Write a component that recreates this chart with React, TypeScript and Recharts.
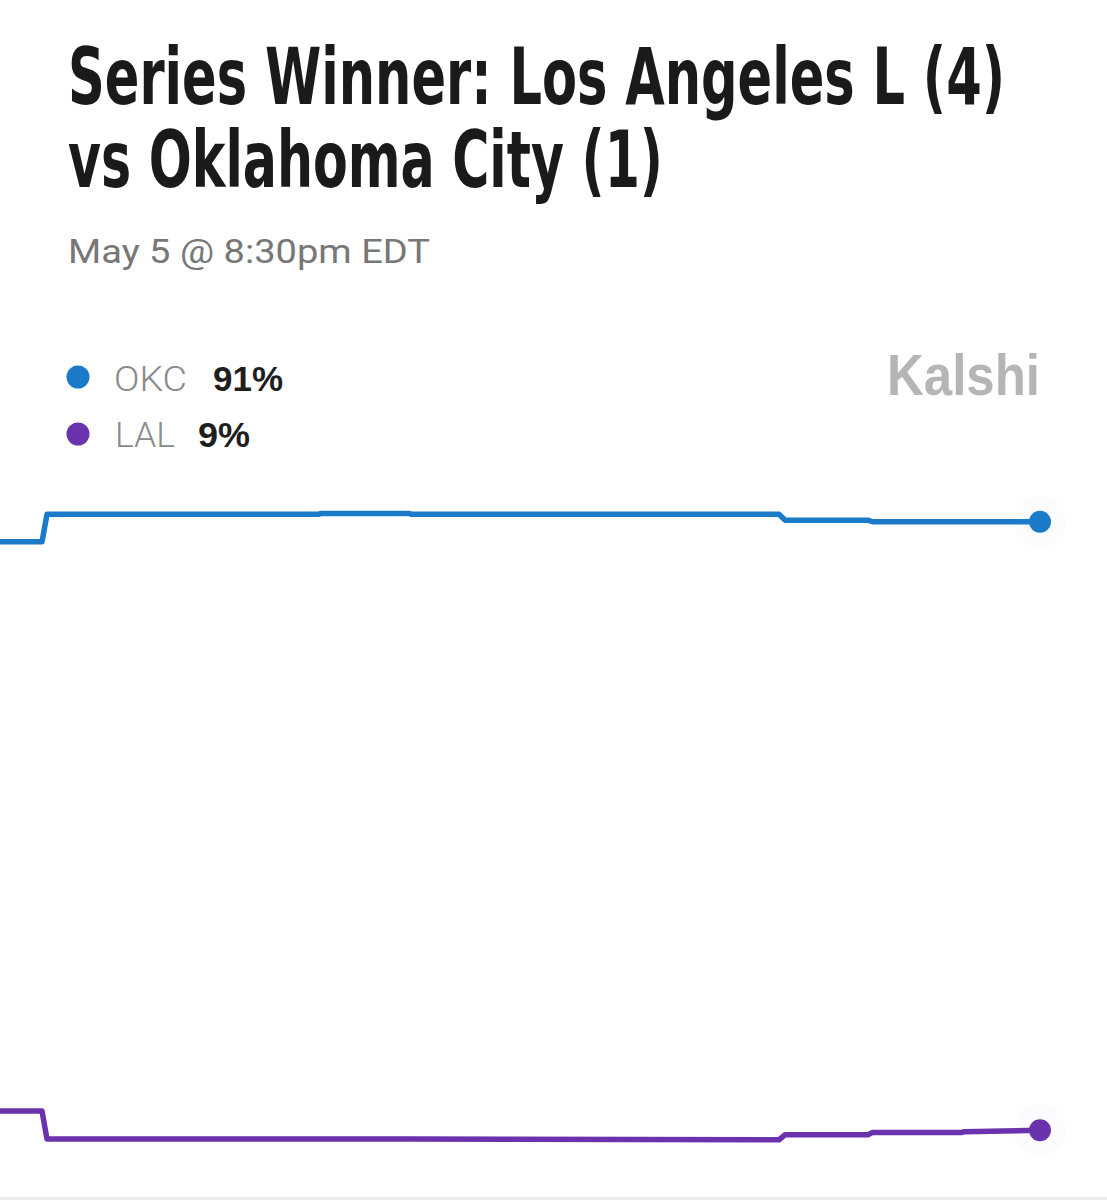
import React from "react";
import { LineChart, Line, XAxis, YAxis } from "recharts";

// time position (0..100 of the visible window)
const times = [0, 4.04, 4.52, 30.6, 30.8, 39.4, 39.6, 74.9, 75.5, 83.5, 83.9, 92.5, 92.7, 100];
// OKC win probability (%)
const okcValues = [88.3, 88.3, 92.0, 92.0, 92.1, 92.1, 92.0, 92.0, 91.2, 91.2, 91.0, 91.0, 91.0, 91.0];
// LAL win probability (%)
const lalValues = [11.6, 11.6, 7.8, 7.8, 7.8, 7.8, 7.8, 7.7, 8.4, 8.4, 8.7, 8.7, 8.8, 9.0];

const seriesNames = ["OKC", "LAL"];
const seriesLabels = ["91%", "9%"];
const seriesColors = ["#1b7bc9", "#6a32ad"];

const titleLines = ["Series Winner: Los Angeles L (4)", "vs Oklahoma City (1)"];
const subtitle = "May 5 @ 8:30pm EDT";
const brand = "Kalshi";

const data = times.map((t, i) => ({ t, okc: okcValues[i], lal: lalValues[i] }));

const W = 1107;
const H = 1200;

const makeEndDot = (color: string) => (props: any) => {
  const { cx, cy, index } = props;
  if (index !== data.length - 1 || cx == null || cy == null) return <g key={`d-${index}`} />;
  return (
    <g key={`d-${index}`}>
      <circle cx={cx} cy={cy} r={26} fill={color} fillOpacity={0.018} />
      <circle cx={cx} cy={cy} r={11} fill={color} />
    </g>
  );
};

const titleFont = "'Liberation Sans Narrow', 'DejaVu Sans Condensed', 'Liberation Sans', sans-serif";

export default function App() {
  return (
    <div style={{ position: "absolute", left: 0, top: 0, width: W, height: H, background: "#ffffff", overflow: "hidden" }}>
      <div style={{ position: "absolute", left: 0, top: 1197, width: W, height: 3, background: "#ececec" }} />
      <div style={{ position: "absolute", left: 0, top: 0 }}>
        <LineChart width={W} height={H} data={data} margin={{ top: 455, right: 67, bottom: 3, left: 0 }}>
          <XAxis dataKey="t" type="number" domain={[0, 100]} hide />
          <YAxis type="number" domain={[0, 100]} hide />
          <Line
            dataKey="okc"
            type="linear"
            stroke={seriesColors[0]}
            strokeWidth={5.5}
            strokeLinejoin="round"
            strokeLinecap="round"
            dot={makeEndDot(seriesColors[0])}
            activeDot={false}
            isAnimationActive={false}
          />
          <Line
            dataKey="lal"
            type="linear"
            stroke={seriesColors[1]}
            strokeWidth={5.5}
            strokeLinejoin="round"
            strokeLinecap="round"
            dot={makeEndDot(seriesColors[1])}
            activeDot={false}
            isAnimationActive={false}
          />
        </LineChart>
      </div>
      <svg width={W} height={H} style={{ position: "absolute", left: 0, top: 0, pointerEvents: "none" }}>
        <g transform="translate(68,104) scale(1,1.37)">
          <text x={0} y={0} fontFamily={titleFont} fontWeight={700} fontSize={57} fill="#1a1a1a" textLength={937} lengthAdjust="spacingAndGlyphs">
            {titleLines[0]}
          </text>
        </g>
        <g transform="translate(68,187) scale(1,1.37)">
          <text x={0} y={0} fontFamily={titleFont} fontWeight={700} fontSize={57} fill="#1a1a1a" textLength={595} lengthAdjust="spacingAndGlyphs">
            {titleLines[1]}
          </text>
        </g>
        <text x={68} y={263} fontFamily="Roboto, 'Liberation Sans', sans-serif" fontSize={33} fill="#777777" textLength={362} lengthAdjust="spacingAndGlyphs">
          {subtitle}
        </text>

        <circle cx={78} cy={377} r={11.5} fill={seriesColors[0]} />
        <text x={114} y={391} fontFamily="Roboto, 'Liberation Sans', sans-serif" fontWeight={300} fontSize={35} fill="#8a8a8a" textLength={73} lengthAdjust="spacingAndGlyphs">
          {seriesNames[0]}
        </text>
        <text x={213} y={391} fontFamily="'Liberation Sans', Arial, sans-serif" fontWeight={700} fontSize={35} fill="#1e1e1e" textLength={70} lengthAdjust="spacingAndGlyphs">
          {seriesLabels[0]}
        </text>

        <circle cx={78} cy={434} r={11.5} fill={seriesColors[1]} />
        <text x={115} y={447} fontFamily="Roboto, 'Liberation Sans', sans-serif" fontWeight={300} fontSize={35} fill="#8a8a8a" textLength={60} lengthAdjust="spacingAndGlyphs">
          {seriesNames[1]}
        </text>
        <text x={198} y={447} fontFamily="'Liberation Sans', Arial, sans-serif" fontWeight={700} fontSize={35} fill="#1e1e1e" textLength={52} lengthAdjust="spacingAndGlyphs">
          {seriesLabels[1]}
        </text>

        <text x={887} y={395} fontFamily="'Liberation Sans', Arial, sans-serif" fontWeight={700} fontSize={58} fill="#b5b5b5" textLength={153} lengthAdjust="spacingAndGlyphs">
          {brand}
        </text>
      </svg>
    </div>
  );
}
